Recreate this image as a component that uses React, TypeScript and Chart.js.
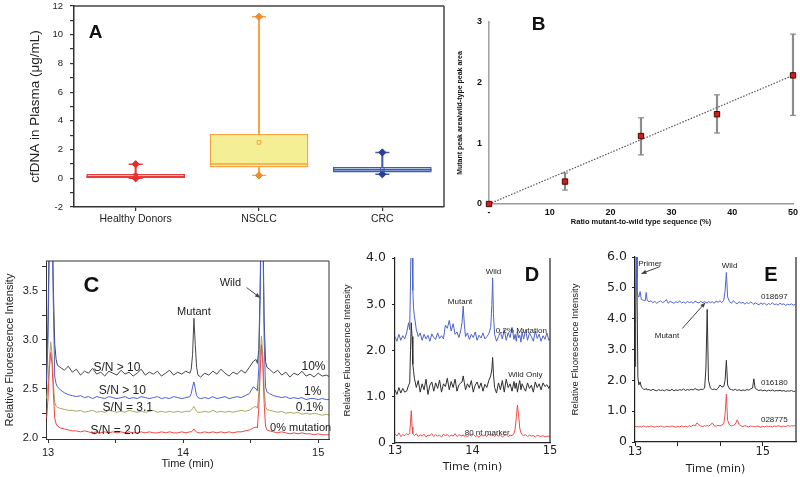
import React, { useEffect, useRef } from 'react';
import { Chart, registerables } from 'chart.js';
Chart.register(...registerables);

// ---------------- Panel A : box plot data ----------------
const groupsA = ['Healthy Donors', 'NSCLC', 'CRC'];
const minA = [0.0, 0.2, 0.28];
const q1A = [0.02, 0.75, 0.4];
const medA = [0.1, 1.0, 0.6];
const q3A = [0.3, 3.08, 0.78];
const maxA = [0.98, 11.25, 1.8];
const meanA = [0.2, 2.5, 0.62];
const yTicksA = [-2, -1, 0, 1, 2, 3, 4, 5, 6, 7, 8, 9, 10, 11, 12];
const yLabelsA = [-2, 0, 2, 4, 6, 8, 10, 12];

// ---------------- Panel B : calibration ----------------
const ratioB = [0, 12.5, 25, 37.5, 50];
const meanB = [0, 0.37, 1.12, 1.48, 2.12];
const lowB = [0, 0.23, 0.81, 1.17, 1.46];
const highB = [0, 0.51, 1.42, 1.8, 2.8];
const fitXB = [0, 50];
const fitYB = [0, 2.12];
const xTicksB = [0, 10, 20, 30, 40, 50];
const yTicksB = [0, 1, 2, 3];

// ---------------- Panel C : electropherograms ----------------
const timeC = [
  12.99, 13.0, 13.01, 13.02, 13.03, 13.04, 13.05, 13.06, 13.07,
  13.09, 13.12, 13.15, 13.18, 13.21, 13.24, 13.27, 13.3, 13.33, 13.36,
  13.39, 13.42, 13.45, 13.48, 13.51, 13.54, 13.57, 13.6, 13.63, 13.66,
  13.69, 13.72, 13.75, 13.78, 13.81, 13.84, 13.87, 13.9, 13.93, 13.96,
  13.99, 14.02, 14.05,
  14.06, 14.07, 14.08, 14.09, 14.1, 14.11,
  14.13, 14.16, 14.19, 14.22, 14.25, 14.28, 14.31, 14.34, 14.37, 14.4, 14.43, 14.46, 14.49, 14.52,
  14.54, 14.55, 14.56, 14.57, 14.58, 14.59, 14.6, 14.61, 14.62,
  14.64, 14.67, 14.7, 14.73, 14.76, 14.79, 14.82, 14.85, 14.88, 14.91, 14.94, 14.97, 15.0, 15.03, 15.06, 15.09,
];
const c10 = [
  2.7, 3.2, 4.2, 4.5, 4.3, 3.5, 2.95, 2.8, 2.74,
  2.72, 2.69, 2.73, 2.67, 2.7, 2.64, 2.68, 2.66, 2.71, 2.65,
  2.67, 2.63, 2.68, 2.66, 2.64, 2.69, 2.65, 2.67, 2.63, 2.66,
  2.7, 2.64, 2.67, 2.65, 2.68, 2.63, 2.66, 2.69, 2.64, 2.67,
  2.65, 2.68, 2.66,
  2.7, 2.85, 3.22, 2.95, 2.72, 2.64,
  2.62, 2.66, 2.64, 2.68, 2.65, 2.7, 2.66, 2.63, 2.67, 2.65, 2.69, 2.66, 2.72, 2.78,
  2.8, 2.76, 2.9, 3.5, 4.5, 4.3, 3.2, 2.78, 2.72,
  2.7, 2.66, 2.69, 2.64, 2.67, 2.62, 2.66, 2.64, 2.68, 2.63, 2.65, 2.62, 2.66, 2.63, 2.64, 2.62,
];
const c1 = [
  2.58, 3.0, 4.0, 4.4, 4.2, 3.3, 2.62, 2.55, 2.52,
  2.49, 2.46, 2.44, 2.43, 2.42, 2.43, 2.41, 2.42, 2.4, 2.42,
  2.41, 2.4, 2.42, 2.41, 2.4, 2.41, 2.42, 2.4, 2.41, 2.4,
  2.42, 2.41, 2.4, 2.41, 2.42, 2.4, 2.41, 2.4, 2.42, 2.41,
  2.4, 2.41, 2.42,
  2.45, 2.52, 2.57, 2.5, 2.43, 2.41,
  2.4, 2.41, 2.4, 2.42, 2.4, 2.41, 2.42, 2.4, 2.41, 2.42, 2.41, 2.43, 2.45, 2.52,
  2.5, 2.48, 2.7, 3.4, 4.4, 4.2, 3.0, 2.52, 2.47,
  2.45, 2.43, 2.42, 2.41, 2.42, 2.4, 2.41, 2.4, 2.41, 2.39, 2.4, 2.4, 2.39, 2.4, 2.39, 2.39,
];
const c01 = [
  2.4, 2.55, 2.8, 2.98, 2.85, 2.55, 2.36, 2.32, 2.31,
  2.3, 2.29, 2.28, 2.28, 2.27, 2.28, 2.26, 2.27, 2.28, 2.26,
  2.27, 2.26, 2.28, 2.27, 2.26, 2.27, 2.26, 2.28, 2.27, 2.26,
  2.27, 2.26, 2.27, 2.28, 2.26, 2.27, 2.26, 2.27, 2.26, 2.27,
  2.26, 2.27, 2.27,
  2.28, 2.3, 2.32, 2.29, 2.27, 2.26,
  2.26, 2.27, 2.26, 2.28, 2.26, 2.27, 2.26, 2.27, 2.26, 2.27, 2.28, 2.27, 2.28, 2.31,
  2.32, 2.3, 2.45, 2.8, 3.04, 2.85, 2.5, 2.32, 2.29,
  2.28, 2.27, 2.26, 2.27, 2.25, 2.26, 2.25, 2.26, 2.24, 2.25, 2.24, 2.25, 2.24, 2.23, 2.24, 2.23,
];
const c0 = [
  2.2, 2.4, 2.7, 2.87, 2.75, 2.45, 2.2, 2.14, 2.12,
  2.1, 2.09, 2.08, 2.07, 2.07, 2.06, 2.07, 2.06, 2.05, 2.06,
  2.05, 2.06, 2.05, 2.06, 2.05, 2.06, 2.05, 2.06, 2.05, 2.05,
  2.06, 2.05, 2.06, 2.05, 2.05, 2.06, 2.05, 2.06, 2.05, 2.05,
  2.06, 2.05, 2.06,
  2.06, 2.07, 2.09, 2.07, 2.06, 2.05,
  2.05, 2.06, 2.05, 2.06, 2.05, 2.06, 2.05, 2.06, 2.05, 2.06, 2.06, 2.07, 2.08, 2.1,
  2.11, 2.1, 2.3, 2.65, 2.95, 2.75, 2.35, 2.12, 2.08,
  2.07, 2.06, 2.05, 2.06, 2.05, 2.04, 2.05, 2.04, 2.05, 2.04, 2.04, 2.03, 2.04, 2.03, 2.03, 2.03,
];
const xTicksC = [13, 13.5, 14, 14.5, 15];
const xLabelsC = [13, 14, 15];
const yTicksC = [2.0, 2.25, 2.5, 2.75, 3.0, 3.25, 3.5, 3.75];
const yLabelsC = [2.0, 2.5, 3.0, 3.5];

// ---------------- Panel D ----------------
const timeD = [
  13.0, 13.025, 13.05, 13.075, 13.1, 13.125, 13.15, 13.175,
  13.19, 13.2, 13.21, 13.22, 13.23, 13.24,
  13.25, 13.275, 13.3, 13.325, 13.35, 13.375, 13.4, 13.425, 13.45, 13.475,
  13.5, 13.525, 13.55, 13.575, 13.6, 13.625, 13.65, 13.675, 13.7, 13.725,
  13.75, 13.775, 13.8, 13.825, 13.85,
  13.865, 13.88, 13.895,
  13.91, 13.935, 13.96, 13.985, 14.01, 14.035, 14.06, 14.085, 14.11, 14.135, 14.16, 14.185, 14.21, 14.235,
  14.25, 14.26, 14.27,
  14.285, 14.31, 14.335, 14.36, 14.385, 14.41, 14.435, 14.46, 14.485, 14.51, 14.535,
  14.55, 14.565, 14.58, 14.595, 14.61, 14.625, 14.64,
  14.66, 14.685, 14.71, 14.735, 14.76, 14.785, 14.81, 14.835, 14.86, 14.885, 14.91, 14.935, 14.96, 14.985, 15.0,
];
const dMut = [
  2.3, 2.2, 2.35, 2.22, 2.32, 2.25, 2.38, 2.6,
  2.45, 3.5, 4.6, 4.4, 3.3, 2.9,
  2.75, 2.45, 2.3, 2.38, 2.22, 2.35, 2.25, 2.33, 2.2, 2.36,
  2.28, 2.24, 2.38, 2.26, 2.32, 2.25, 2.55, 2.48, 2.65, 2.42,
  2.58, 2.35, 2.4, 2.28, 2.45,
  2.6, 2.96, 2.55,
  2.3, 2.38, 2.24, 2.35, 2.28, 2.4, 2.22, 2.33, 2.27, 2.38, 2.25, 2.3, 2.36, 2.5,
  3.0, 3.57, 2.8,
  2.35, 2.2, 2.3, 2.4, 2.25, 2.45, 2.22, 2.38, 2.28, 2.5, 2.24,
  2.35, 2.2, 2.42, 2.27, 2.33, 2.18, 2.4,
  2.25, 2.45, 2.22, 2.38, 2.3, 2.2, 2.42, 2.26, 2.35, 2.2, 2.32, 2.24, 2.38, 2.22, 2.25,
];
const dWild = [
  1.15, 1.05, 1.2, 1.08, 1.18, 1.1, 1.12, 1.25,
  1.3, 2.0, 2.6, 2.3, 1.7, 1.55,
  1.4, 1.2, 1.35, 1.1, 1.28, 1.15, 1.38, 1.05, 1.25, 1.32,
  1.12, 1.3, 1.18, 1.36, 1.1, 1.28, 1.22, 1.4, 1.15, 1.33,
  1.2, 1.38, 1.12, 1.26, 1.3,
  1.32, 1.45, 1.3,
  1.15, 1.28, 1.2, 1.35, 1.1, 1.25, 1.32, 1.18, 1.3, 1.12, 1.27, 1.2, 1.35, 1.45,
  1.6, 1.85, 1.5,
  1.2, 1.08, 1.3, 1.15, 1.35, 1.1, 1.38, 1.2, 1.28, 1.12, 1.33,
  1.18, 1.3, 1.1, 1.25, 1.35, 1.15, 1.28,
  1.2, 1.12, 1.3, 1.18, 1.25, 1.1, 1.32, 1.2, 1.28, 1.15, 1.3, 1.22, 1.26, 1.18, 1.24,
];
const dMarker = [
  0.2, 0.15, 0.22, 0.14, 0.18, 0.16, 0.2, 0.18,
  0.22, 0.45, 0.7, 0.35, 0.2, 0.18,
  0.16, 0.2, 0.14, 0.18, 0.15, 0.19, 0.13, 0.17, 0.16, 0.2,
  0.14, 0.18, 0.15, 0.17, 0.13, 0.19, 0.16, 0.18, 0.14, 0.17,
  0.15, 0.2, 0.14, 0.18, 0.16,
  0.15, 0.18, 0.14,
  0.17, 0.13, 0.18, 0.15, 0.19, 0.14, 0.16, 0.12, 0.18, 0.15, 0.17, 0.14, 0.19, 0.16,
  0.18, 0.15, 0.17,
  0.14, 0.18, 0.15, 0.17, 0.13, 0.16, 0.18, 0.14, 0.17, 0.16, 0.2,
  0.3, 0.55, 0.82, 0.6, 0.32, 0.22, 0.18,
  0.16, 0.18, 0.14, 0.17, 0.15, 0.16, 0.13, 0.17, 0.15, 0.14, 0.16, 0.13, 0.15, 0.14, 0.16,
];
const xTicksD = [13, 14, 15];
const yTicksD = [0, 1, 2, 3, 4];

// ---------------- Panel E ----------------
const timeE = [
  13.0, 13.01, 13.02, 13.03, 13.045, 13.06, 13.08, 13.1, 13.13, 13.16, 13.175, 13.19,
  13.22, 13.25, 13.28, 13.31, 13.34, 13.37, 13.4, 13.43, 13.46, 13.49,
  13.52, 13.55, 13.58, 13.61, 13.64, 13.67, 13.7, 13.73, 13.76, 13.79,
  13.82, 13.85, 13.88, 13.91, 13.94, 13.97, 14.0, 14.03, 14.06, 14.09,
  14.11, 14.13, 14.15,
  14.18, 14.21, 14.24, 14.27, 14.3, 14.33, 14.36, 14.39,
  14.41, 14.43, 14.45,
  14.48, 14.51, 14.54, 14.57, 14.6, 14.63, 14.66, 14.69, 14.72, 14.75, 14.78, 14.81, 14.84,
  14.86, 14.88,
  14.91, 14.94, 14.97, 15.0, 15.03, 15.06, 15.09, 15.12, 15.15, 15.18,
  15.21, 15.24, 15.27, 15.3, 15.33, 15.36, 15.39, 15.42, 15.45, 15.48, 15.51,
];
const e018697 = [
  6.5, 6.8, 6.2, 4.95, 4.75, 4.7, 4.88, 4.62, 4.6, 4.58, 4.85, 4.6,
  4.55, 4.58, 4.52, 4.56, 4.5, 4.54, 4.58, 4.52, 4.55, 4.62,
  4.5, 4.56, 4.53, 4.5, 4.55, 4.52, 4.57, 4.51, 4.54, 4.5,
  4.56, 4.52, 4.55, 4.5, 4.57, 4.53, 4.51, 4.56, 4.52, 4.55,
  4.53, 4.5, 4.56,
  4.52, 4.55, 4.5, 4.57, 4.53, 4.58, 4.52, 4.6,
  4.9, 5.5, 4.7,
  4.55, 4.5, 4.58, 4.52, 4.48, 4.55, 4.5, 4.53, 4.47, 4.52, 4.49, 4.54, 4.5,
  4.46, 4.52,
  4.48, 4.45, 4.51, 4.47, 4.5, 4.44, 4.49, 4.46, 4.52, 4.45,
  4.48, 4.44, 4.5, 4.46, 4.48, 4.43, 4.47, 4.45, 4.48, 4.44, 4.46,
];
const e016180 = [
  2.45, 3.8, 6.5, 5.3, 2.1, 1.85, 1.95, 1.78, 1.72, 1.7, 1.74, 1.69,
  1.7, 1.67, 1.71, 1.68, 1.66, 1.7, 1.67, 1.69, 1.66, 1.7,
  1.68, 1.67, 1.71, 1.66, 1.69, 1.67, 1.7, 1.68, 1.72, 1.67,
  1.7, 1.68, 1.71, 1.69, 1.73, 1.7, 1.68, 1.71, 1.7, 1.75,
  2.4, 4.3, 2.0,
  1.75, 1.7, 1.72, 1.69, 1.74, 1.85, 1.78, 1.8,
  2.0, 2.65, 1.85,
  1.72, 1.7, 1.68, 1.71, 1.67, 1.7, 1.66, 1.69, 1.67, 1.7, 1.68, 1.72, 1.75,
  2.05, 1.75,
  1.7, 1.67, 1.69, 1.66, 1.68, 1.65, 1.68, 1.66, 1.69, 1.65,
  1.67, 1.66, 1.68, 1.65, 1.67, 1.64, 1.66, 1.65, 1.67, 1.64, 1.65,
];
const e028775 = [
  0.5, 0.52, 0.49, 0.51, 0.5, 0.48, 0.51, 0.49, 0.52, 0.5, 0.48, 0.51,
  0.49, 0.52, 0.5, 0.48, 0.51, 0.49, 0.52, 0.5, 0.48, 0.51,
  0.5, 0.49, 0.52, 0.5, 0.48, 0.51, 0.49, 0.52, 0.5, 0.51,
  0.49, 0.53, 0.5, 0.55, 0.52, 0.62, 0.56, 0.52, 0.5, 0.53,
  0.51, 0.54, 0.52,
  0.55, 0.62, 0.53, 0.51, 0.54, 0.52, 0.55, 0.6,
  0.9, 1.55, 0.7,
  0.55, 0.52, 0.54, 0.58, 0.72, 0.56, 0.52, 0.5, 0.53, 0.51, 0.49, 0.52, 0.5,
  0.51, 0.49,
  0.52, 0.5, 0.48, 0.51, 0.49, 0.52, 0.5, 0.51, 0.49, 0.52,
  0.5, 0.53, 0.51, 0.49, 0.52, 0.5, 0.54, 0.51, 0.53, 0.52, 0.54,
];
const xTicksE = [13, 13.667, 14.333, 15];
const xLabelsE = [13, 15];
const yTicksE = [0, 1, 2, 3, 4, 5, 6];

// ---------------- helpers ----------------
const SANS = "'Liberation Sans', Arial, sans-serif";
const DEJA = "'DejaVu Sans', Verdana, sans-serif";
const W = 800;
const H = 477;

type Area = { l: number; t: number; r: number; b: number };
const layoutFor = (a: Area, yW: number, xH: number) => ({
  autoPadding: false,
  padding: { left: a.l - yW, top: a.t, right: W - a.r, bottom: H - a.b - xH },
});
const fixW = (w: number) => (s: any) => {
  s.width = w;
  s.paddingTop = 0;
  s.paddingBottom = 0;
};
const fixH = (h: number) => (s: any) => {
  s.height = h;
  s.paddingLeft = 0;
  s.paddingRight = 0;
};
const setTicks = (vals: number[]) => (s: any) => {
  s.ticks = vals.map((v) => ({ value: v }));
};
const labelIf = (labeled: number[], fmt: (v: number) => string) => (v: any) => {
  const n = Number(v);
  return labeled.some((t) => Math.abs(t - n) < 1e-6) ? fmt(n) : '';
};
const trace = (xs: number[], ys: number[], color: string) => ({
  type: 'scatter',
  data: xs.map((x, i) => ({ x, y: ys[i] })),
  showLine: true,
  borderColor: color,
  backgroundColor: color,
  borderWidth: 1,
  pointRadius: 0,
  pointHoverRadius: 0,
  tension: 0,
  fill: false,
});

type Item = { x: number; y: number; text: string; font: string; color?: string; align?: string; abs?: boolean };
type Arrow = { x1: number; y1: number; x2: number; y2: number; abs?: boolean };

const makeDecor = (items: Item[], arrows: Arrow[], frameSides: string[], frameColor: string, frameWidth: number) => ({
  id: 'decor',
  afterDatasetsDraw(chart: any) {
    const { ctx, chartArea: c } = chart;
    const sx = chart.scales.x;
    const sy = chart.scales.y;
    const px = (abs: boolean | undefined, v: number) => (abs ? v : sx.getPixelForValue(v));
    const py = (abs: boolean | undefined, v: number) => (abs ? v : sy.getPixelForValue(v));
    ctx.save();
    if (frameSides.length) {
      ctx.strokeStyle = frameColor;
      ctx.lineWidth = frameWidth;
      ctx.beginPath();
      if (frameSides.includes('top')) {
        ctx.moveTo(c.left, c.top);
        ctx.lineTo(c.right, c.top);
      }
      if (frameSides.includes('right')) {
        ctx.moveTo(c.right, c.top);
        ctx.lineTo(c.right, c.bottom);
      }
      ctx.stroke();
    }
    arrows.forEach((a) => {
      const x1 = px(a.abs, a.x1), y1 = py(a.abs, a.y1), x2 = px(a.abs, a.x2), y2 = py(a.abs, a.y2);
      ctx.strokeStyle = '#444';
      ctx.fillStyle = '#444';
      ctx.lineWidth = 1;
      ctx.beginPath();
      ctx.moveTo(x1, y1);
      ctx.lineTo(x2, y2);
      ctx.stroke();
      const ang = Math.atan2(y2 - y1, x2 - x1);
      const L = 5, hw = 2.2;
      ctx.beginPath();
      ctx.moveTo(x2, y2);
      ctx.lineTo(x2 - L * Math.cos(ang) + hw * Math.sin(ang), y2 - L * Math.sin(ang) - hw * Math.cos(ang));
      ctx.lineTo(x2 - L * Math.cos(ang) - hw * Math.sin(ang), y2 - L * Math.sin(ang) + hw * Math.cos(ang));
      ctx.closePath();
      ctx.fill();
    });
    items.forEach((it) => {
      ctx.font = it.font;
      ctx.fillStyle = it.color || '#222';
      ctx.textAlign = (it.align as CanvasTextAlign) || 'center';
      ctx.textBaseline = 'middle';
      ctx.fillText(it.text, px(it.abs, it.x), py(it.abs, it.y));
    });
    ctx.restore();
  },
});

const baseOptions = {
  animation: false,
  responsive: false,
  maintainAspectRatio: false,
  devicePixelRatio: 1,
  events: [] as string[],
  plugins: { legend: { display: false }, tooltip: { enabled: false } },
};

// ---------------- chart configs ----------------
function configA() {
  const area = { l: 74, t: 6, r: 444, b: 207 };
  const fill = ['#fde2e2', '#f4ee95', '#c9d5f0'];
  const edge = ['#e83a3a', '#f5a642', '#3d5cb4'];
  const mark = ['#e62a2a', '#f08a2a', '#2a3f94'];
  return {
    type: 'bar',
    data: {
      labels: groupsA,
      datasets: [
        {
          type: 'bar', data: groupsA.map((_, i) => [q1A[i], q3A[i]]), backgroundColor: fill, borderColor: edge,
          borderWidth: 1.5, borderSkipped: false, barPercentage: 0.8, categoryPercentage: 1, grouped: false, order: 10,
        },
        {
          type: 'bar', data: groupsA.map((_, i) => [q3A[i], maxA[i]]), backgroundColor: edge, borderWidth: 0,
          barThickness: 1.4, grouped: false, order: 9,
        },
        {
          type: 'bar', data: groupsA.map((_, i) => [minA[i], q1A[i]]), backgroundColor: edge, borderWidth: 0,
          barThickness: 1.4, grouped: false, order: 9,
        },
        {
          type: 'line', data: medA, showLine: false, pointStyle: 'line', pointRadius: 49.3, pointBorderColor: edge,
          pointBorderWidth: 1.5, order: 8,
        },
        {
          type: 'line', data: maxA, showLine: false, pointStyle: 'line', pointRadius: 7, pointBorderColor: edge,
          pointBorderWidth: 1.4, order: 7,
        },
        {
          type: 'line', data: minA, showLine: false, pointStyle: 'line', pointRadius: 7, pointBorderColor: edge,
          pointBorderWidth: 1.4, order: 7,
        },
        {
          type: 'line', data: maxA, showLine: false, pointStyle: 'rectRot', pointRadius: 3.6, pointBackgroundColor: mark,
          pointBorderColor: mark, pointBorderWidth: 1, order: 6,
        },
        {
          type: 'line', data: minA, showLine: false, pointStyle: 'rectRot', pointRadius: 3.6, pointBackgroundColor: mark,
          pointBorderColor: mark, pointBorderWidth: 1, order: 6,
        },
        {
          type: 'line', data: meanA, showLine: false, pointStyle: 'rect', pointRadius: 2.6, pointBackgroundColor: 'rgba(0,0,0,0)',
          pointBorderColor: edge, pointBorderWidth: 1, order: 5,
        },
      ],
    },
    options: {
      ...baseOptions,
      layout: layoutFor(area, 46.4, 20),
      scales: {
        x: {
          type: 'category', offset: true,
          grid: { display: true, drawOnChartArea: false, drawTicks: true, tickLength: 4, offset: false, color: '#333', lineWidth: 1.2 },
          border: { display: true, color: '#333', width: 1.5 },
          ticks: { font: { family: SANS, size: 10.5 }, color: '#222', padding: 2, maxRotation: 0, autoSkip: false },
          afterFit: fixH(20),
        },
        y: {
          type: 'linear', min: -2, max: 12,
          afterBuildTicks: setTicks(yTicksA),
          grid: { display: true, drawOnChartArea: false, drawTicks: true, tickLength: 4, color: '#333', lineWidth: 1.2 },
          border: { display: true, color: '#333', width: 1.5 },
          ticks: { callback: labelIf(yLabelsA, (v) => String(v)), font: { family: SANS, size: 9.5 }, color: '#222', padding: 7, autoSkip: false },
          title: { display: true, text: 'cfDNA in Plasma (μg/mL)', font: { family: SANS, size: 13.5 }, color: '#222', padding: 0 },
          afterFit: fixW(46.4),
        },
      },
    },
    plugins: [
      makeDecor([{ abs: true, x: 95.5, y: 32.5, text: 'A', font: `bold 19px ${SANS}`, color: '#111' }], [], ['top', 'right'], '#444', 1.5),
    ],
  };
}

function configB() {
  const area = { l: 489, t: 22, r: 793, b: 204 };
  return {
    type: 'scatter',
    data: {
      datasets: [
        {
          type: 'line', data: ratioB.map((x, i) => ({ x, y: meanB[i] })), showLine: false, pointStyle: 'rect',
          pointRadius: 3.8, pointBackgroundColor: '#d41a1a', pointBorderColor: '#4a0808', pointBorderWidth: 1, order: 1, clip: false,
        },
        {
          type: 'line', data: fitXB.map((x, i) => ({ x, y: fitYB[i] })), borderColor: '#555', borderWidth: 1.2,
          borderDash: [1.5, 1.5], pointRadius: 0, fill: false, order: 2, clip: false,
        },
        {
          type: 'bar', data: ratioB.map((x, i) => ({ x, y: [lowB[i], highB[i]] })), backgroundColor: '#8c8c8c',
          borderWidth: 0, barThickness: 1.5, order: 3, clip: false,
        },
        {
          type: 'line', data: ratioB.map((x, i) => ({ x, y: highB[i] })), showLine: false, pointStyle: 'line',
          pointRadius: 3, pointBorderColor: '#8c8c8c', pointBorderWidth: 1.2, order: 3, clip: false,
        },
        {
          type: 'line', data: ratioB.map((x, i) => ({ x, y: lowB[i] })), showLine: false, pointStyle: 'line',
          pointRadius: 3, pointBorderColor: '#8c8c8c', pointBorderWidth: 1.2, order: 3, clip: false,
        },
      ],
    },
    options: {
      ...baseOptions,
      layout: layoutFor(area, 33.2, 22.5),
      scales: {
        x: {
          type: 'linear', min: 0, max: 50, offset: false,
          afterBuildTicks: setTicks(xTicksB),
          grid: { display: false, drawTicks: false },
          border: { display: true, color: '#9a9a9a', width: 1.6 },
          ticks: { callback: (v: any) => (Number(v) === 0 ? '-' : String(v)), font: { family: SANS, size: 9, weight: 'bold' }, color: '#111', padding: 3, maxRotation: 0 },
          title: { display: true, text: 'Ratio mutant-to-wild type sequence (%)', font: { family: SANS, size: 7.5, weight: 'bold' }, color: '#111', padding: 0 },
          afterFit: fixH(22.5),
        },
        y: {
          type: 'linear', min: 0, max: 3,
          afterBuildTicks: setTicks(yTicksB),
          grid: { display: false, drawTicks: false },
          border: { display: true, color: '#a5a5a5', width: 1.6 },
          ticks: { font: { family: SANS, size: 9, weight: 'bold' }, color: '#111', padding: 7 },
          title: { display: true, text: 'Mutant peak area/wild-type peak area', font: { family: SANS, size: 7, weight: 'bold' }, color: '#111', padding: 0 },
          afterFit: fixW(33.2),
        },
      },
    },
    plugins: [
      makeDecor([{ abs: true, x: 538.5, y: 25, text: 'B', font: `bold 19px ${SANS}`, color: '#111' }], [], [], '#000', 1),
    ],
  };
}

function configC() {
  const area = { l: 46, t: 261, r: 329, b: 439 };
  const f11 = `11px ${SANS}`;
  const f12 = `12px ${SANS}`;
  return {
    type: 'scatter',
    data: {
      datasets: [
        trace(timeC, c0, '#ef4646'),
        trace(timeC, c01, '#a9a75c'),
        trace(timeC, c1, '#4d60d2'),
        trace(timeC, c10, '#474747'),
      ],
    },
    options: {
      ...baseOptions,
      layout: layoutFor(area, 42.6, 31.6),
      scales: {
        x: {
          type: 'linear', min: 12.985, max: 15.08,
          afterBuildTicks: setTicks(xTicksC),
          grid: { display: true, drawOnChartArea: false, drawTicks: true, tickLength: 4, color: '#333' },
          border: { display: true, color: '#333', width: 1 },
          ticks: { callback: labelIf(xLabelsC, (v) => String(v)), font: { family: SANS, size: 11 }, color: '#222', padding: 3, maxRotation: 0, autoSkip: false },
          title: { display: true, text: 'Time (min)', font: { family: SANS, size: 11 }, color: '#222', padding: 0 },
          afterFit: fixH(31.6),
        },
        y: {
          type: 'linear', min: 1.987, max: 3.806,
          afterBuildTicks: setTicks(yTicksC),
          grid: { display: true, drawOnChartArea: false, drawTicks: true, tickLength: 4, color: '#333' },
          border: { display: true, color: '#333', width: 1 },
          ticks: { callback: labelIf(yLabelsC, (v) => v.toFixed(1)), font: { family: SANS, size: 11 }, color: '#222', padding: 4, autoSkip: false },
          title: { display: true, text: 'Relative Fluorescence Intensity', font: { family: SANS, size: 11 }, color: '#222', padding: 0 },
          afterFit: fixW(42.6),
        },
      },
    },
    plugins: [
      makeDecor(
        [
          { x: 14.08, y: 3.286, text: 'Mutant', font: f11 },
          { x: 14.35, y: 3.58, text: 'Wild', font: f11 },
          { x: 13.51, y: 2.711, text: 'S/N > 10', font: f12 },
          { x: 13.55, y: 2.477, text: 'S/N > 10', font: f12 },
          { x: 13.59, y: 2.303, text: 'S/N = 3.1', font: f12 },
          { x: 13.5, y: 2.07, text: 'S/N = 2.0', font: f12 },
          { x: 14.965, y: 2.725, text: '10%', font: f12 },
          { x: 14.96, y: 2.47, text: '1%', font: f12 },
          { x: 14.935, y: 2.306, text: '0.1%', font: f12 },
          { x: 14.87, y: 2.096, text: '0% mutation', font: f11 },
          { abs: true, x: 91.5, y: 286, text: 'C', font: `bold 22px ${SANS}`, color: '#111' },
        ],
        [{ x1: 14.47, y1: 3.535, x2: 14.57, y2: 3.43 }],
        ['top', 'right'], '#333', 1,
      ),
    ],
  };
}

function configD() {
  const area = { l: 395, t: 258, r: 550, b: 443 };
  const f8 = `8px ${SANS}`;
  return {
    type: 'scatter',
    data: {
      datasets: [
        trace(timeD, dMarker, '#f04848'),
        trace(timeD, dMut, '#4d63cc'),
        trace(timeD, dWild, '#2e2e2e'),
      ],
    },
    options: {
      ...baseOptions,
      layout: layoutFor(area, 53, 30.3),
      scales: {
        x: {
          type: 'linear', min: 13, max: 15,
          afterBuildTicks: setTicks(xTicksD),
          grid: { display: false, drawTicks: false },
          border: { display: true, color: '#222', width: 1.2 },
          ticks: { font: { family: DEJA, size: 11.5 }, color: '#222', padding: 1, maxRotation: 0, autoSkip: false },
          title: { display: true, text: 'Time (min)', font: { family: DEJA, size: 11 }, color: '#222', padding: 0 },
          afterFit: fixH(30.3),
        },
        y: {
          type: 'linear', min: 0, max: 4,
          afterBuildTicks: setTicks(yTicksD),
          grid: { display: true, drawOnChartArea: false, drawTicks: true, tickLength: 3, color: '#222' },
          border: { display: true, color: '#222', width: 1.2 },
          ticks: { callback: (v: any) => (Number(v) === 0 ? '0' : Number(v).toFixed(1)), font: { family: DEJA, size: 12.5 }, color: '#222', padding: 6, autoSkip: false },
          title: { display: true, text: 'Relative Fluorescence Intensity', font: { family: SANS, size: 9.5 }, color: '#222', padding: 0 },
          afterFit: fixW(53),
        },
      },
    },
    plugins: [
      makeDecor(
        [
          { x: 13.84, y: 3.06, text: 'Mutant', font: f8 },
          { x: 14.27, y: 3.7, text: 'Wild', font: f8 },
          { x: 14.3, y: 2.43, text: '0.2% Mutation', font: f8, align: 'left' },
          { x: 14.46, y: 1.47, text: 'Wild Only', font: f8, align: 'left' },
          { x: 13.9, y: 0.226, text: '80 nt marker', font: f8, align: 'left' },
          { abs: true, x: 532, y: 275, text: 'D', font: `bold 20px ${SANS}`, color: '#111' },
        ],
        [],
        ['right'], '#222', 1.2,
      ),
    ],
  };
}

function configE() {
  const area = { l: 635, t: 257, r: 796, b: 442 };
  const f8 = `8px ${SANS}`;
  return {
    type: 'scatter',
    data: {
      datasets: [
        trace(timeE, e028775, '#f04e4e'),
        trace(timeE, e018697, '#5065d4'),
        trace(timeE, e016180, '#333333'),
      ],
    },
    options: {
      ...baseOptions,
      layout: layoutFor(area, 65, 34.1),
      scales: {
        x: {
          type: 'linear', min: 13, max: 15.52,
          afterBuildTicks: setTicks(xTicksE),
          grid: { display: true, drawOnChartArea: false, drawTicks: true, tickLength: 4, color: '#222' },
          border: { display: true, color: '#222', width: 1.2 },
          ticks: { callback: labelIf(xLabelsE, (v) => String(Math.round(v))), font: { family: DEJA, size: 11.5 }, color: '#222', padding: -1, maxRotation: 0, autoSkip: false },
          title: { display: true, text: 'Time (min)', font: { family: DEJA, size: 11 }, color: '#222', padding: 0 },
          afterFit: fixH(34.1),
        },
        y: {
          type: 'linear', min: 0, max: 6,
          afterBuildTicks: setTicks(yTicksE),
          grid: { display: true, drawOnChartArea: false, drawTicks: true, tickLength: 3, color: '#222' },
          border: { display: true, color: '#222', width: 1.2 },
          ticks: { callback: (v: any) => (Number(v) === 0 ? '0' : Number(v).toFixed(1)), font: { family: DEJA, size: 12.5 }, color: '#222', padding: 5, autoSkip: false },
          title: { display: true, text: 'Relative Fluorescence Intensity', font: { family: SANS, size: 9.5 }, color: '#222', padding: 0 },
          afterFit: fixW(65),
        },
      },
    },
    plugins: [
      makeDecor(
        [
          { x: 13.05, y: 5.79, text: 'Primer', font: f8, align: 'left' },
          { x: 14.48, y: 5.72, text: 'Wild', font: f8 },
          { x: 15.18, y: 4.72, text: '018697', font: f8 },
          { x: 13.5, y: 3.43, text: 'Mutant', font: f8 },
          { x: 15.18, y: 1.93, text: '016180', font: f8 },
          { x: 15.18, y: 0.72, text: '028775', font: f8 },
          { abs: true, x: 771, y: 275, text: 'E', font: `bold 20px ${SANS}`, color: '#111' },
        ],
        [
          { x1: 13.39, y1: 5.69, x2: 13.1, y2: 5.46 },
          { x1: 13.74, y1: 3.68, x2: 14.1, y2: 4.52 },
        ],
        ['right'], '#222', 1.2,
      ),
    ],
  };
}

function ChartCanvas({ make }: { make: () => any }) {
  const ref = useRef<HTMLCanvasElement>(null);
  useEffect(() => {
    const chart = new Chart(ref.current as HTMLCanvasElement, make());
    return () => chart.destroy();
  }, [make]);
  return (
    <canvas
      ref={ref}
      width={W}
      height={H}
      style={{ position: 'absolute', left: 0, top: 0, width: W, height: H }}
    />
  );
}

export default function App() {
  return (
    <div style={{ position: 'fixed', left: 0, top: 0, width: W, height: H, background: '#fff', overflow: 'hidden' }}>
      <ChartCanvas make={configA} />
      <ChartCanvas make={configB} />
      <ChartCanvas make={configC} />
      <ChartCanvas make={configD} />
      <ChartCanvas make={configE} />
    </div>
  );
}
